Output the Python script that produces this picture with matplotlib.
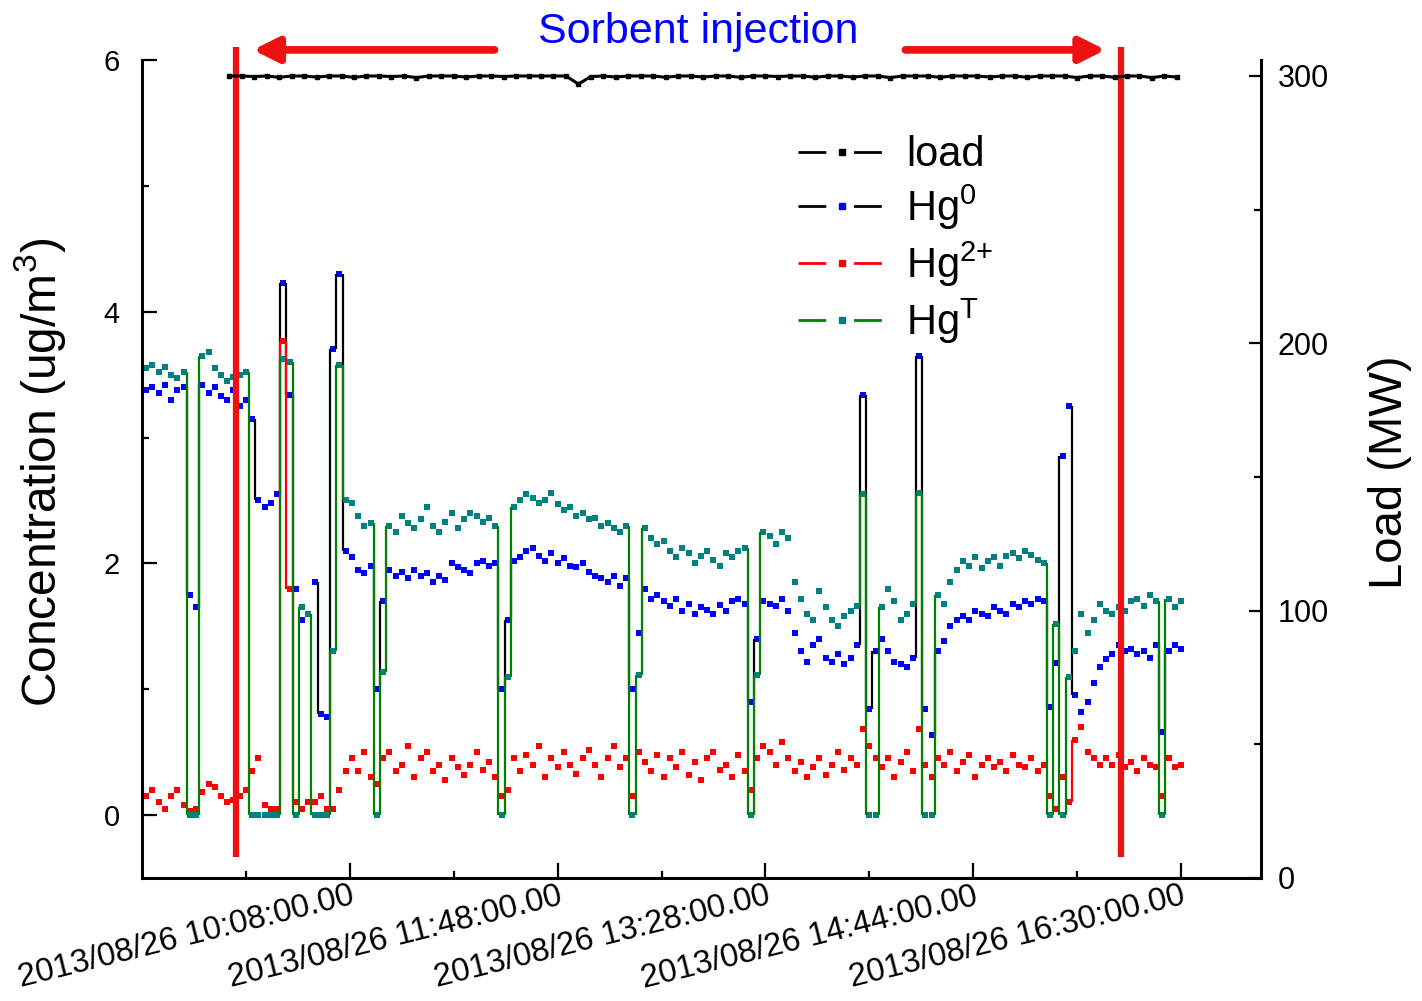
import numpy as np
import matplotlib.pyplot as plt
from matplotlib.lines import Line2D

plt.rcParams['font.family'] = ['Liberation Sans', 'DejaVu Sans']
plt.rcParams['mathtext.fontset'] = 'custom'
plt.rcParams['mathtext.rm'] = 'Liberation Sans'
plt.rcParams['mathtext.it'] = 'Liberation Sans:italic'

# time axis in minutes after 10:08, one reading every 3 min
t = np.arange(-98, 401, 3)

hg_t = [3.55, 3.58, 3.52, 3.56, 3.50, 3.47, 3.52, 0.00, 0.00, 3.65,
        3.68, 3.55, 3.50, 3.45, 3.48, 3.50, 3.52, 0.00, 0.00, 0.00,
        0.00, 0.00, 3.62, 3.60, 0.00, 1.65, 1.60, 0.00, 0.00, 0.00,
        1.30, 3.58, 2.50, 2.48, 2.38, 2.30, 2.32, 0.00, 1.14, 2.30,
        2.25, 2.38, 2.32, 2.28, 2.35, 2.45, 2.30, 2.25, 2.33, 2.40,
        2.28, 2.35, 2.40, 2.38, 2.33, 2.36, 2.30, 0.00, 1.10, 2.45,
        2.50, 2.55, 2.52, 2.48, 2.50, 2.56, 2.47, 2.42, 2.45, 2.38,
        2.40, 2.35, 2.36, 2.30, 2.32, 2.28, 2.25, 2.30, 0.00, 1.11,
        2.28, 2.20, 2.15, 2.18, 2.10, 2.05, 2.12, 2.08, 2.00, 2.06,
        2.10, 2.03, 1.98, 2.08, 2.05, 2.10, 2.12, 0.00, 1.11, 2.25,
        2.22, 2.15, 2.25, 2.20, 1.85, 1.72, 1.60, 1.55, 1.78, 1.65,
        1.55, 1.50, 1.58, 1.62, 1.66, 2.55, 0.00, 0.00, 1.65, 1.80,
        1.70, 1.55, 1.60, 1.68, 2.56, 0.00, 0.00, 1.75, 1.68, 1.85,
        1.95, 2.02, 1.98, 2.05, 1.96, 2.02, 2.05, 1.98, 2.06, 2.08,
        2.04, 2.10, 2.07, 2.03, 2.00, 0.00, 1.52, 0.00, 1.10, 1.30,
        1.60, 1.45, 1.55, 1.68, 1.62, 1.60, 1.65, 1.62, 1.70, 1.72,
        1.66, 1.75, 1.70, 0.00, 1.72, 1.65, 1.70]

hg_0 = [3.38, 3.40, 3.35, 3.42, 3.30, 3.38, 3.40, 1.75, 1.65, 3.42,
        3.35, 3.40, 3.33, 3.30, 3.38, 3.25, 3.30, 3.15, 2.50, 2.45,
        2.48, 2.55, 4.23, 3.34, 1.80, 1.55, 1.60, 1.85, 0.80, 0.78,
        3.70, 4.30, 2.10, 2.05, 1.95, 1.92, 1.98, 1.00, 1.70, 1.95,
        1.90, 1.93, 1.88, 1.95, 1.90, 1.92, 1.85, 1.90, 1.87, 2.00,
        1.97, 1.95, 1.92, 2.00, 2.02, 1.98, 2.00, 1.00, 1.55, 2.02,
        2.05, 2.10, 2.12, 2.06, 2.02, 2.08, 2.00, 2.04, 1.98, 1.97,
        2.00, 1.93, 1.90, 1.88, 1.85, 1.90, 1.82, 1.88, 1.00, 1.45,
        1.80, 1.72, 1.75, 1.70, 1.66, 1.72, 1.62, 1.68, 1.60, 1.65,
        1.63, 1.60, 1.67, 1.62, 1.70, 1.72, 1.68, 0.90, 1.40, 1.70,
        1.68, 1.66, 1.72, 1.62, 1.45, 1.30, 1.22, 1.35, 1.40, 1.25,
        1.22, 1.28, 1.20, 1.25, 1.35, 3.34, 0.84, 1.30, 1.40, 1.30,
        1.22, 1.20, 1.18, 1.25, 3.65, 0.84, 0.64, 1.30, 1.38, 1.50,
        1.55, 1.58, 1.55, 1.62, 1.60, 1.58, 1.65, 1.62, 1.60, 1.68,
        1.65, 1.70, 1.68, 1.72, 1.70, 0.86, 1.21, 2.85, 3.25, 0.95,
        0.82, 0.90, 1.05, 1.18, 1.24, 1.28, 1.35, 1.30, 1.32, 1.28,
        1.30, 1.25, 1.35, 0.66, 1.30, 1.35, 1.32]

hg_2 = [0.15, 0.20, 0.10, 0.05, 0.15, 0.20, 0.08, 0.03, 0.05, 0.18,
        0.25, 0.22, 0.15, 0.10, 0.12, 0.15, 0.20, 0.35, 0.45, 0.08,
        0.05, 0.05, 3.77, 1.80, 0.10, 0.05, 0.10, 0.10, 0.15, 0.05,
        0.05, 0.20, 0.35, 0.45, 0.35, 0.50, 0.30, 0.25, 0.45, 0.50,
        0.35, 0.40, 0.55, 0.30, 0.45, 0.50, 0.35, 0.40, 0.28, 0.45,
        0.38, 0.32, 0.40, 0.50, 0.36, 0.42, 0.30, 0.15, 0.20, 0.45,
        0.35, 0.48, 0.40, 0.55, 0.30, 0.45, 0.38, 0.50, 0.40, 0.33,
        0.45, 0.52, 0.40, 0.30, 0.45, 0.55, 0.38, 0.45, 0.15, 0.50,
        0.42, 0.35, 0.48, 0.30, 0.45, 0.38, 0.50, 0.32, 0.42, 0.28,
        0.45, 0.50, 0.36, 0.40, 0.30, 0.48, 0.35, 0.20, 0.45, 0.55,
        0.50, 0.40, 0.58, 0.45, 0.35, 0.42, 0.30, 0.38, 0.45, 0.32,
        0.40, 0.50, 0.36, 0.45, 0.40, 0.68, 0.55, 0.45, 0.38, 0.45,
        0.30, 0.42, 0.50, 0.35, 0.68, 0.40, 0.30, 0.45, 0.40, 0.50,
        0.35, 0.42, 0.48, 0.30, 0.40, 0.45, 0.38, 0.42, 0.35, 0.48,
        0.40, 0.38, 0.45, 0.35, 0.40, 0.15, 0.05, 0.30, 0.10, 0.60,
        0.70, 0.50, 0.45, 0.40, 0.45, 0.40, 0.48, 0.38, 0.42, 0.35,
        0.45, 0.40, 0.38, 0.15, 0.45, 0.38, 0.40]

# unit load, every 6 min
t_load = np.arange(-58, 399, 6)
load = [300.0, 300.0, 299.8, 300.0, 299.5, 300.0, 300.0, 299.6, 300.0, 300.0,
        299.5, 300.0, 300.0, 299.8, 300.0, 299.4, 300.0, 300.0, 300.0, 299.6,
        300.0, 300.0, 299.8, 300.0, 300.0, 300.0, 300.0, 300.0, 297.0, 299.8,
        300.0, 299.6, 300.0, 300.0, 300.0, 299.5, 300.0, 300.0, 299.6, 300.0,
        300.0, 299.5, 300.0, 300.0, 299.8, 300.0, 300.0, 299.5, 300.0, 300.0,
        299.6, 300.0, 300.0, 299.4, 300.0, 300.0, 300.0, 299.5, 300.0, 300.0,
        300.0, 299.6, 300.0, 300.0, 299.5, 300.0, 300.0, 300.0, 299.4, 300.0,
        300.0, 299.5, 300.0, 300.0, 299.4, 300.0, 299.6]

tick_pos = [0, 100, 200, 300, 400]
tick_labels = ['2013/08/26 10:08:00.00', '2013/08/26 11:48:00.00',
               '2013/08/26 13:28:00.00', '2013/08/26 14:44:00.00',
               '2013/08/26 16:30:00.00']
inj_start, inj_end = -55, 371

fig = plt.figure(figsize=(14.22, 10.01), dpi=100)
ax = fig.add_axes([0.0999, 0.1229, 0.7869, 0.8172])
ax2 = ax.twinx()

# load on right axis
ax2.plot(t_load, load, color='black', lw=2.2, marker='s', ms=2.5)
ax2.set_ylim(0, 306)
ax2.set_yticks([0, 100, 200, 300])
ax2.set_yticks([50, 150, 250], minor=True)


def draw_series(x, y, lc, mc):
    y = np.asarray(y)
    ax.plot(x, y, ls='none', marker='s', ms=4.6, mfc=mc, mec=mc, mew=0)
    jump = np.where(np.abs(np.diff(y)) > 0.45)[0]
    xm = (x[jump] + x[jump + 1]) / 2.0
    ax.vlines(xm, y[jump], y[jump + 1], color=lc, lw=1.6)


draw_series(t, hg_0, 'black', '#0000ff')
draw_series(t, hg_2, '#ff0000', '#ff0000')
draw_series(t, hg_t, '#008000', '#008080')

ax.set_xlim(-100, 438.5)
ax.set_ylim(-0.5, 6.0)
ax.set_yticks([0, 2, 4, 6])
ax.set_yticks([1, 3, 5], minor=True)
ax.set_xticks(tick_pos)
ax.set_xticklabels(tick_labels, rotation=14, ha='right', va='top',
                   rotation_mode='anchor', fontsize=23.5)
ax.set_xticks([-50, 50, 150, 250, 350], minor=True)

for a in (ax, ax2):
    a.patch.set_visible(False)
    a.spines['top'].set_visible(False)
    for s in a.spines.values():
        s.set_linewidth(2.2)
ax.spines['right'].set_visible(False)
ax2.spines['left'].set_visible(False)
ax2.spines['bottom'].set_visible(False)

ax.tick_params(axis='both', which='major', direction='in', length=11, width=1.6)
ax.tick_params(axis='both', which='minor', direction='in', length=5, width=1.6)
ax.tick_params(axis='y', pad=16, labelsize=21)
ax.tick_params(axis='x', pad=2)
ax2.tick_params(which='major', direction='in', length=9, width=1.6,
                labelsize=22, pad=12)
ax2.tick_params(which='minor', direction='in', length=5, width=1.6)

ax.set_ylabel('Concentration (ug/m$^3$)', fontsize=34.5)
ax.yaxis.set_label_coords(-0.066, 0.496)
ax2.set_ylabel('Load (MW)', fontsize=34)
ax2.yaxis.set_label_coords(1.096, 0.496)

# sorbent injection period
for xv in (inj_start, inj_end):
    ax.plot([xv, xv], [-0.33, 6.1], color='#ee1111', lw=4.5, clip_on=False,
            solid_capstyle='butt', zorder=5)
ax.annotate('', xy=(-48, 6.08), xytext=(71, 6.08), annotation_clip=False,
            arrowprops=dict(arrowstyle='-|>,head_length=0.5,head_width=0.25',
                            color='#ee1111', lw=5.5, mutation_scale=30))
ax.annotate('', xy=(365, 6.08), xytext=(266, 6.08), annotation_clip=False,
            arrowprops=dict(arrowstyle='-|>,head_length=0.5,head_width=0.25',
                            color='#ee1111', lw=5.5, mutation_scale=30))
ax.text(167.5, 6.22, 'Sorbent injection', color='#0000ff', fontsize=31,
        ha='center', va='center', clip_on=False)

handles = [
    Line2D([], [], color='black', lw=2, ls=(0, (10, 10)), marker='s', ms=5,
           mfc='black', mec='black'),
    Line2D([], [], color='black', lw=2, ls=(0, (10, 10)), marker='s', ms=5,
           mfc='#0000ff', mec='#0000ff'),
    Line2D([], [], color='#ff0000', lw=2, ls=(0, (10, 10)), marker='s', ms=5,
           mfc='#ff0000', mec='#ff0000'),
    Line2D([], [], color='#008000', lw=2, ls=(0, (10, 10)), marker='s', ms=5,
           mfc='#008080', mec='#008080'),
]
labels = ['load', 'Hg$^0$', 'Hg$^{2{+}}$', 'Hg$^{\\mathrm{T}}$']
fig.legend(handles, labels, loc='upper left', bbox_to_anchor=(0.5612, 0.865),
           frameon=False, fontsize=30, handlelength=2.1, handletextpad=0.5,
           labelspacing=0.18, borderpad=0, borderaxespad=0, numpoints=1)

fig.savefig('out.png', dpi=100)
